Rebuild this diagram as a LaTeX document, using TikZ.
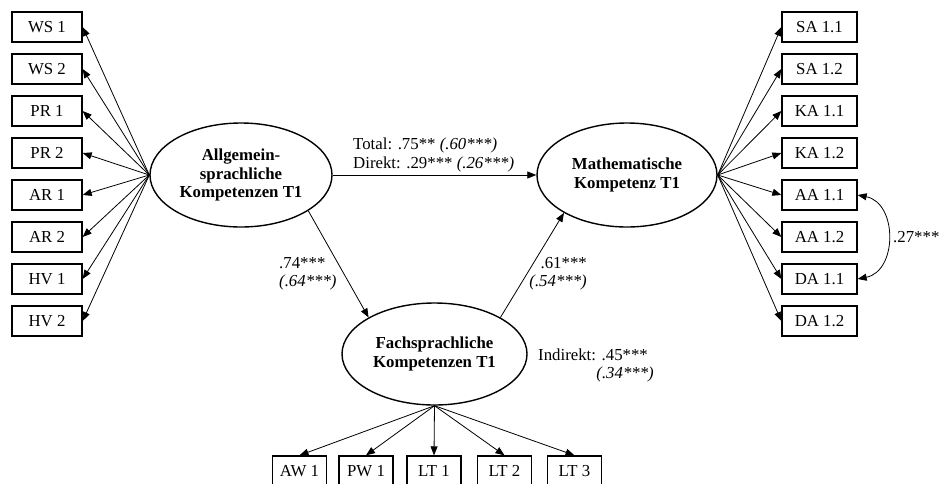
\documentclass[tikz,border=0pt]{standalone}
\usepackage{fontspec}
\setmainfont{Liberation Serif}
\usetikzlibrary{shapes.geometric,arrows.meta}
\begin{document}
\begin{tikzpicture}[x=1pt,y=-1pt,
  font=\fontsize{16.8}{19}\selectfont,
  box/.style={draw,line width=1.3pt,minimum height=30pt,inner sep=0pt},
  lbox/.style={box,minimum width=70pt},
  rbox/.style={box,minimum width=75pt},
  bbox/.style={box,minimum width=54pt},
  latent/.style={draw,ellipse,line width=1.4pt,inner sep=0pt,align=center,font=\fontsize{16.8}{18.5}\selectfont\bfseries},
  arr/.style={line width=0.8pt,-{Triangle[length=9pt,width=7pt]}},
  lab/.style={inner sep=0pt}
]
\useasboundingbox (0,0) rectangle (940,483);
% latent variables
\node[latent,minimum width=182pt,minimum height=104pt] (A) at (241,175) {Allgemein-\\sprachliche\\Kompetenzen T1};
\node[latent,minimum width=180pt,minimum height=104pt] (M) at (627,175) {Mathematische\\Kompetenz T1};
\node[latent,minimum width=185pt,minimum height=102pt] (F) at (434.5,354) {Fachsprachliche\\Kompetenzen T1};
% left indicators
\node[lbox] (l1) at (47,27) {WS 1};
\node[lbox] (l2) at (47,69) {WS 2};
\node[lbox] (l3) at (47,111) {PR 1};
\node[lbox] (l4) at (47,153) {PR 2};
\node[lbox] (l5) at (47,195) {AR 1};
\node[lbox] (l6) at (47,237) {AR 2};
\node[lbox] (l7) at (47,279) {HV 1};
\node[lbox] (l8) at (47,321) {HV 2};
% right indicators
\node[rbox] (r1) at (819.5,27) {SA 1.1};
\node[rbox] (r2) at (819.5,69) {SA 1.2};
\node[rbox] (r3) at (819.5,111) {KA 1.1};
\node[rbox] (r4) at (819.5,153) {KA 1.2};
\node[rbox] (r5) at (819.5,195) {AA 1.1};
\node[rbox] (r6) at (819.5,237) {AA 1.2};
\node[rbox] (r7) at (819.5,279) {DA 1.1};
\node[rbox] (r8) at (819.5,321) {DA 1.2};
% bottom indicators
\node[bbox] (b1) at (299.5,471) {AW 1};
\node[bbox] (b2) at (366,471) {PW 1};
\node[bbox] (b3) at (434,471) {LT 1};
\node[bbox] (b4) at (504.5,471) {LT 2};
\node[bbox] (b5) at (574.5,471) {LT 3};
% loadings
\foreach \i in {1,...,8} {
  \draw[arr] (A.west) -- (l\i.east);
  \draw[arr] (M.east) -- (r\i.west);
}
\foreach \i in {1,...,5} {
  \draw[arr] (F.south) -- (b\i.north);
}
% structural paths
\draw[arr] (A.east) -- (M.west);
\draw[arr] (A.-28) -- (F.151);
\draw[arr] (F.29) -- (M.211);
% covariance
\draw[line width=0.8pt,{Triangle[length=9pt,width=7pt]}-{Triangle[length=9pt,width=7pt]}] (r5.east) .. controls +(40,8) and +(40,-8) .. (r7.east);
% labels
\node[lab,anchor=base west] (t1) at (353,149) {Total: .75** \textit{(.60***)}};
\node[lab,anchor=base west] (t2) at (353,168) {Direkt: .29*** \textit{(.26***)}};
\node[lab,anchor=base west] (t3) at (279,268) {.74***};
\node[lab,anchor=base west] (t4) at (279,286) {\textit{(.64***)}};
\node[lab,anchor=base east] (t5) at (587,268) {.61***};
\node[lab,anchor=base east] (t6) at (587,286) {\textit{(.54***)}};
\node[lab,anchor=base west] (t7) at (538,360) {Indirekt: .45***};
\node[lab,anchor=base east] (t8) at (654,378) {\textit{(.34***)}};
\node[lab,anchor=west] (t9) at (893,237) {.27***};
\end{tikzpicture}
\end{document}
